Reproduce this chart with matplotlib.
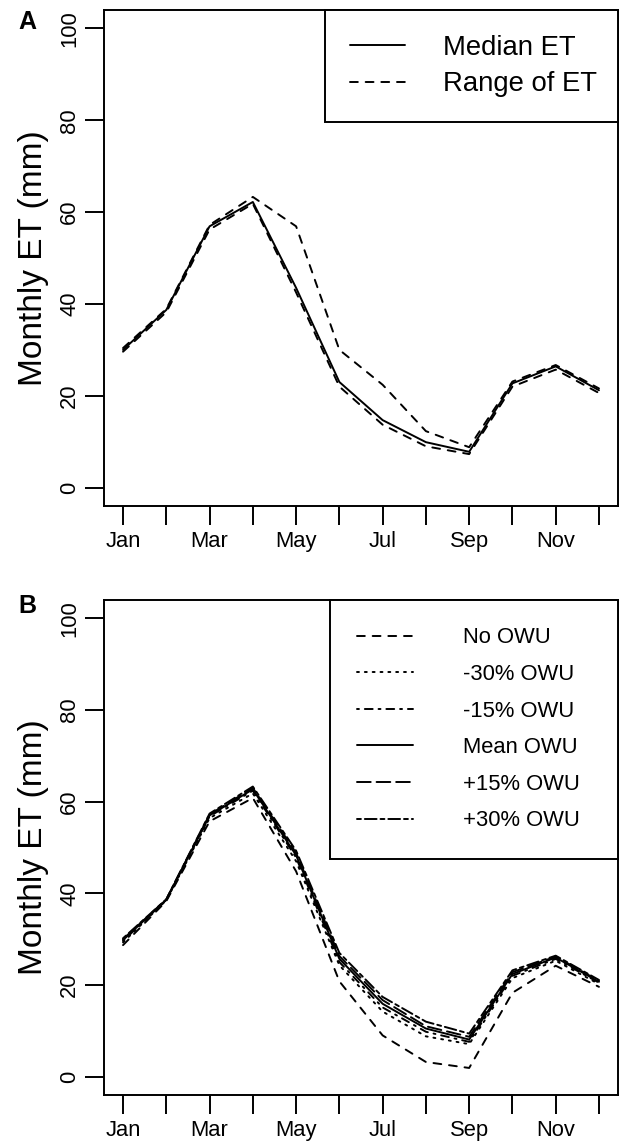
import matplotlib
matplotlib.use("Agg")
import matplotlib.pyplot as plt

plt.rcParams["font.family"] = ["Liberation Sans", "DejaVu Sans"]
plt.rcParams["lines.scale_dashes"] = False

# ---- data -------------------------------------------------------------
months = ["Jan", "Feb", "Mar", "Apr", "May", "Jun",
          "Jul", "Aug", "Sep", "Oct", "Nov", "Dec"]
month_ticklabels = ["Jan", "", "Mar", "", "May", "", "Jul", "", "Sep", "", "Nov", ""]
month_index = list(range(1, 13))

# Panel A: median and range of monthly ET (mm)
et_median = [30.0, 38.7, 56.9, 62.2, 43.5, 23.0, 14.7, 9.9, 7.8, 22.7, 26.4, 21.2]
et_upper = [30.4, 38.9, 57.2, 63.3, 56.9, 30.0, 22.4, 12.3, 8.8, 23.1, 26.7, 21.6]
et_lower = [29.6, 38.2, 56.2, 61.8, 42.5, 22.0, 13.7, 9.0, 7.3, 22.0, 25.7, 20.6]

# Panel B: monthly ET under outdoor water use (OWU) scenarios
owu_none = [28.7, 38.3, 55.7, 60.8, 44.8, 20.8, 9.0, 3.2, 1.9, 18.3, 24.2, 19.6]
owu_m30 = [29.3, 38.5, 56.4, 61.8, 47.0, 24.3, 14.2, 8.8, 7.1, 21.5, 25.3, 20.2]
owu_m15 = [29.6, 38.6, 56.8, 62.4, 47.8, 25.0, 15.1, 9.8, 7.6, 22.0, 25.7, 20.5]
owu_mean = [29.8, 38.6, 57.0, 62.7, 48.3, 25.7, 15.9, 10.5, 8.1, 22.4, 26.0, 20.7]
owu_p15 = [30.0, 38.7, 57.2, 63.0, 48.8, 26.3, 16.7, 11.0, 8.7, 22.8, 26.2, 20.9]
owu_p30 = [30.2, 38.7, 57.4, 63.3, 49.3, 27.0, 17.4, 12.0, 9.4, 23.2, 26.4, 21.1]

owu_labels = ["No OWU", "-30% OWU", "-15% OWU", "Mean OWU", "+15% OWU", "+30% OWU"]
yticks = [0, 20, 40, 60, 80, 100]

# ---- styling ----------------------------------------------------------
U = 1.41  # dash unit (pt)
LTY = {
    "solid": "-",
    "dashed": (0, (4 * U, 4 * U)),
    "dotted": (0, (1 * U, 3 * U)),
    "dotdash": (0, (1 * U, 3 * U, 4 * U, 3 * U)),
    "longdash": (0, (7 * U, 3 * U)),
    "twodash": (0, (2 * U, 2 * U, 6 * U, 2 * U)),
}
LW = 1.4
TICK_FS = 15.8

W, H = 621, 1142
fig = plt.figure(figsize=(W / 100, H / 100), dpi=100)


def px_axes(left, top, right, bottom):
    return fig.add_axes([left / W, 1 - bottom / H, (right - left) / W, (bottom - top) / H])


def style(ax):
    ax.set_xlim(0.56, 12.44)
    ax.set_ylim(-4, 104)
    ax.set_xticks(month_index)
    ax.set_xticklabels(month_ticklabels)
    ax.set_yticks(yticks)
    ax.set_yticklabels([str(v) for v in yticks])
    ax.tick_params(direction="out", length=13.7, width=LW, labelsize=TICK_FS, color="black")
    ax.tick_params(axis="x", pad=4.2)
    ax.tick_params(axis="y", pad=3.4, labelrotation=90)
    for lab in ax.get_yticklabels():
        lab.set_va("center")
    for sp in ax.spines.values():
        sp.set_linewidth(LW)
    ax.set_ylabel("Monthly ET (mm)", fontsize=24)
    ax.yaxis.set_label_coords(-0.138, 0.5)
    ax.yaxis.label.set_va("center")


def line(ax, y, lty, label=None):
    ax.plot(month_index, y, color="black", lw=LW, linestyle=LTY[lty],
            dash_capstyle="round", solid_capstyle="round", label=label)


def framed_legend(ax, left_px, **kw):
    x0 = (left_px - 104) / 514
    leg = ax.legend(loc="upper left", bbox_to_anchor=(x0, 0, 1 - x0, 1), mode="expand",
                    borderaxespad=0, fancybox=False, framealpha=1, edgecolor="black", **kw)
    leg.get_frame().set_linewidth(LW)
    return leg


# ---- panel A ----------------------------------------------------------
axA = px_axes(104, 10, 618, 506)
style(axA)
line(axA, et_median, "solid", "Median ET")
line(axA, et_upper, "dashed", "Range of ET")
line(axA, et_lower, "dashed")
framed_legend(axA, 325, fontsize=19.8, borderpad=0.9, handlelength=2.0,
              handletextpad=1.38, labelspacing=0.38)
fig.text(27 / W, 1 - 22 / H, "A", fontsize=18, fontweight="bold", ha="center", va="center")

# ---- panel B ----------------------------------------------------------
axB = px_axes(104, 600, 618, 1095)
style(axB)
for y, lty, lab in zip([owu_none, owu_m30, owu_m15, owu_mean, owu_p15, owu_p30],
                       ["dashed", "dotted", "dotdash", "solid", "longdash", "twodash"],
                       owu_labels):
    line(axB, y, lty, lab)
framed_legend(axB, 330, fontsize=TICK_FS, borderpad=1.25, handlelength=2.55,
              handletextpad=2.25, labelspacing=0.71)
fig.text(27 / W, 1 - 606 / H, "B", fontsize=18, fontweight="bold", ha="center", va="center")

fig.savefig("out.png", dpi=100)
